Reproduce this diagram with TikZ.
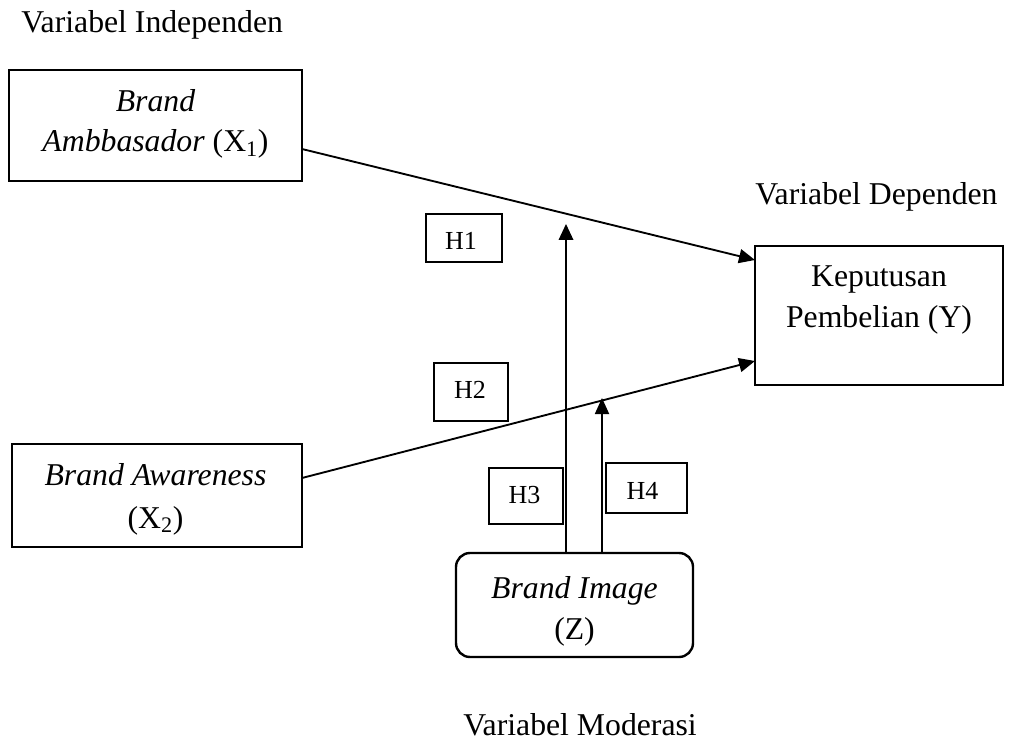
\documentclass[tikz,border=0pt]{standalone}
\usepackage{fontspec}
\setmainfont{Liberation Serif}
\usetikzlibrary{arrows.meta,calc}
\begin{document}
\begin{tikzpicture}[x=0.75pt,y=-0.75pt,
  varbox/.style={draw, line width=1.8pt, inner sep=0pt, outer sep=0pt},
  hbox/.style={draw, line width=0.9pt, inner sep=0pt, outer sep=0pt},
  lbl/.style={anchor=base, inner sep=0pt, font=\fontsize{23.8}{28}\selectfont},
  hlbl/.style={anchor=base, inner sep=0pt, font=\fontsize{19.5}{22}\selectfont},
  arr/.style={line width=1.4pt, -{Triangle[length=12pt,width=10.5pt]}},
  thinarr/.style={line width=1pt, -{Triangle[length=12pt,width=11pt]}},
]
\useasboundingbox (0,0) rectangle (1009,741);

% variable boxes
\node[varbox, minimum width=219.75pt, minimum height=83.25pt] (x1) at (155.5,125.5) {};
\node[varbox, minimum width=217.5pt, minimum height=77.25pt] (x2) at (157,495.5) {};
\node[varbox, minimum width=186pt, minimum height=104.25pt] (y) at (879,315.5) {};
\node[varbox, rounded corners=10.5pt, minimum width=177.75pt, minimum height=78pt] (z) at (574.5,605) {};

% hypothesis boxes
\node[hbox, minimum width=57pt, minimum height=36pt] (h1) at (464,238) {};
\node[hbox, minimum width=55.5pt, minimum height=43.5pt] (h2) at (471,392) {};
\node[hbox, minimum width=55.5pt, minimum height=42pt] (h3) at (526,496) {};
\node[hbox, minimum width=60.75pt, minimum height=37.5pt] (h4) at (646.5,488) {};

% group labels
\node[lbl, anchor=base west] (tind) at (21,33) {Variabel Independen};
\node[lbl, anchor=base west] (tdep) at (755,205) {Variabel Dependen};
\node[lbl, anchor=base west] (tmod) at (463,735) {Variabel Moderasi};

% box texts
\node[lbl] (x1a) at (155.5,112) {\textit{Brand}};
\node[lbl] (x1b) at (155.5,152) {\textit{Ambbasador} (X\textsubscript{1})};
\node[lbl] (x2a) at (155.5,485) {\textit{Brand Awareness}};
\node[lbl] (x2b) at (155.5,528) {(X\textsubscript{2})};
\node[lbl] (ya) at (879,287) {Keputusan};
\node[lbl] (yb) at (879,327) {Pembelian (Y)};
\node[lbl] (za) at (574.5,598) {\textit{Brand Image}};
\node[lbl] (zb) at (574.5,639) {(Z)};

% hypothesis labels
\node[hlbl] (t1) at (461,250) {H1};
\node[hlbl] (t2) at (470,398) {H2};
\node[hlbl] (t3) at (524.5,503) {H3};
\node[hlbl] (t4) at (642.5,499) {H4};

% connectors
\coordinate (h3tip) at (566,224);
\coordinate (h4tip) at (602,398);
\draw[arr] (x1.east |- 0,149) -- (y.west |- 0,260);
\draw[arr] (x2.east |- 0,478) -- (y.west |- 0,361);
\draw[thinarr] (z.north -| 566,0) -- (h3tip);
\draw[arr] (z.north -| 602,0) -- (h4tip);
\end{tikzpicture}
\end{document}
